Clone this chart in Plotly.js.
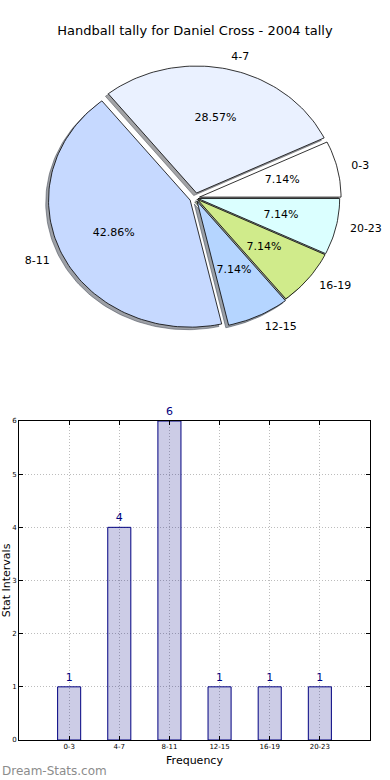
<!DOCTYPE html>
<html><head><meta charset="utf-8">
<script src="https://cdn.plot.ly/plotly-3.0.1.min.js"></script>
<style>html,body{margin:0;padding:0;background:#fff;} #chart{width:390px;height:780px;}</style>
</head><body><div id="chart"></div>
<script>
const categories = ['0-3', '4-7', '8-11', '12-15', '16-19', '20-23'];
const counts = [1, 4, 6, 1, 1, 1];
const explode = [0.03, 0.04, 0.04, 0.03, 0.02, 0.02];
const sliceColors = ['#ffffff', '#eaf1ff', '#c6d9ff', '#b5d5ff', '#d0eb8b', '#dbffff'];
const yTicks = [0, 1, 2, 3, 4, 5, 6];
const titleText = 'Handball tally for Daniel Cross - 2004 tally';
const xTitle = 'Frequency';
const yTitle = 'Stat Intervals';
const watermark = 'Dream-Stats.com';

const total = counts.reduce((a, b) => a + b, 0);
const D = Math.PI / 180;

function shadowColor(hex) {
  const r = parseInt(hex.slice(1, 3), 16), g = parseInt(hex.slice(3, 5), 16), b = parseInt(hex.slice(5, 7), 16);
  return 'rgba(' + Math.round(r * 0.3) + ',' + Math.round(g * 0.3) + ',' + Math.round(b * 0.3) + ',0.5)';
}

let start = 0;
const wedges = counts.map((v, i) => {
  const t1 = start, t2 = start + 360 * v / total; start = t2;
  const tm = (t1 + t2) / 2 * D;
  const ox = explode[i] * Math.cos(tm), oy = explode[i] * Math.sin(tm);
  const xs = [ox], ys = [oy];
  const n = Math.max(10, Math.ceil((t2 - t1) / 1.5));
  for (let k = 0; k <= n; k++) {
    const a = (t1 + (t2 - t1) * k / n) * D;
    xs.push(ox + Math.cos(a)); ys.push(oy + Math.sin(a));
  }
  xs.push(ox); ys.push(oy);
  return { xs, ys, tm, ox, oy, v, i };
});

const traces = [];
// shadows
wedges.forEach(w => {
  const sc = shadowColor(sliceColors[w.i]);
  traces.push({
    type: 'scatter', mode: 'lines', xaxis: 'x2', yaxis: 'y2',
    x: w.xs.map(x => x - 0.02), y: w.ys.map(y => y - 0.02),
    fill: 'toself', fillcolor: sc, line: { color: sc, width: 1 }, hoverinfo: 'skip'
  });
});
// wedges
wedges.forEach(w => {
  traces.push({
    type: 'scatter', mode: 'lines', xaxis: 'x2', yaxis: 'y2',
    x: w.xs, y: w.ys, fill: 'toself', fillcolor: sliceColors[w.i],
    line: { color: '#000000', width: 0.8 }, name: categories[w.i], hoverinfo: 'name'
  });
});
// percent labels
traces.push({
  type: 'scatter', mode: 'text', xaxis: 'x2', yaxis: 'y2',
  x: wedges.map(w => w.ox + 0.6 * Math.cos(w.tm)),
  y: wedges.map(w => w.oy + 0.6 * Math.sin(w.tm)),
  text: counts.map(v => (100 * v / total).toFixed(2) + '%'),
  textposition: 'middle center', textfont: { size: 11, color: '#000', family: 'DejaVu Sans' },
  hoverinfo: 'skip', cliponaxis: false
});
// category labels
const lx = wedges.map(w => w.ox + 1.1 * Math.cos(w.tm));
traces.push({
  type: 'scatter', mode: 'text', xaxis: 'x2', yaxis: 'y2',
  x: lx, y: wedges.map(w => w.oy + 1.1 * Math.sin(w.tm)),
  text: categories,
  textposition: lx.map(x => x > 0 ? 'middle right' : 'middle left'),
  textfont: { size: 11, color: '#000', family: 'DejaVu Sans' },
  hoverinfo: 'skip', cliponaxis: false
});
// bars
traces.push({
  type: 'bar', x: categories, y: counts, xaxis: 'x', yaxis: 'y', width: 0.46,
  marker: { color: 'rgba(0,0,128,0.2)', line: { color: '#000080', width: 1 } },
  text: counts.map(String), textposition: 'outside',
  textfont: { size: 11, color: '#000080', family: 'DejaVu Sans' },
  cliponaxis: false, hoverinfo: 'x+y'
});

const axCommon = {
  showline: true, linecolor: '#000', linewidth: 1, mirror: 'ticks',
  ticks: 'inside', ticklen: 4, tickcolor: '#000', tickwidth: 1,
  showgrid: true, gridcolor: '#bcbcbc', griddash: '1px,2px', gridwidth: 1,
  zeroline: false, tickfont: { size: 7, family: 'DejaVu Sans', color: '#000' }, fixedrange: true
};

const layout = {
  width: 390, height: 780, margin: { l: 0, r: 0, t: 0, b: 0 },
  paper_bgcolor: '#ffffff', plot_bgcolor: '#ffffff', showlegend: false,
  font: { family: 'DejaVu Sans', color: '#000' },
  title: { text: titleText, x: 0.5, xanchor: 'center', y: 1 - 30 / 780, yanchor: 'middle', font: { size: 13, family: 'DejaVu Sans', color: '#000' } },
  xaxis: Object.assign({}, axCommon, {
    domain: [19 / 390, 370 / 390], anchor: 'y', type: 'category', range: [-1, 6],
    title: { text: xTitle, font: { size: 11, family: 'DejaVu Sans' }, standoff: 5 }
  }),
  yaxis: Object.assign({}, axCommon, {
    domain: [1 - 740 / 780, 1 - 421 / 780], anchor: 'x', range: [0, 6], tickvals: yTicks,
    title: { text: yTitle, font: { size: 11, family: 'DejaVu Sans' }, standoff: 0 }
  }),
  xaxis2: { domain: [0, 1], anchor: 'y2', range: [-1.379, 1.375], visible: false, fixedrange: true },
  yaxis2: { domain: [1 - 360 / 780, 1 - 40 / 780], anchor: 'x2', range: [-1.276, 1.244], visible: false, fixedrange: true },
  annotations: [{
    text: watermark, xref: 'paper', yref: 'paper', x: 0, y: 1 - 771 / 780, xanchor: 'left', yanchor: 'middle',
    showarrow: false, font: { size: 12, family: 'DejaVu Sans', color: '#8c8c8c' }
  }]
};

Plotly.newPlot('chart', traces, layout, { displayModeBar: false, staticPlot: true });
</script></body></html>
